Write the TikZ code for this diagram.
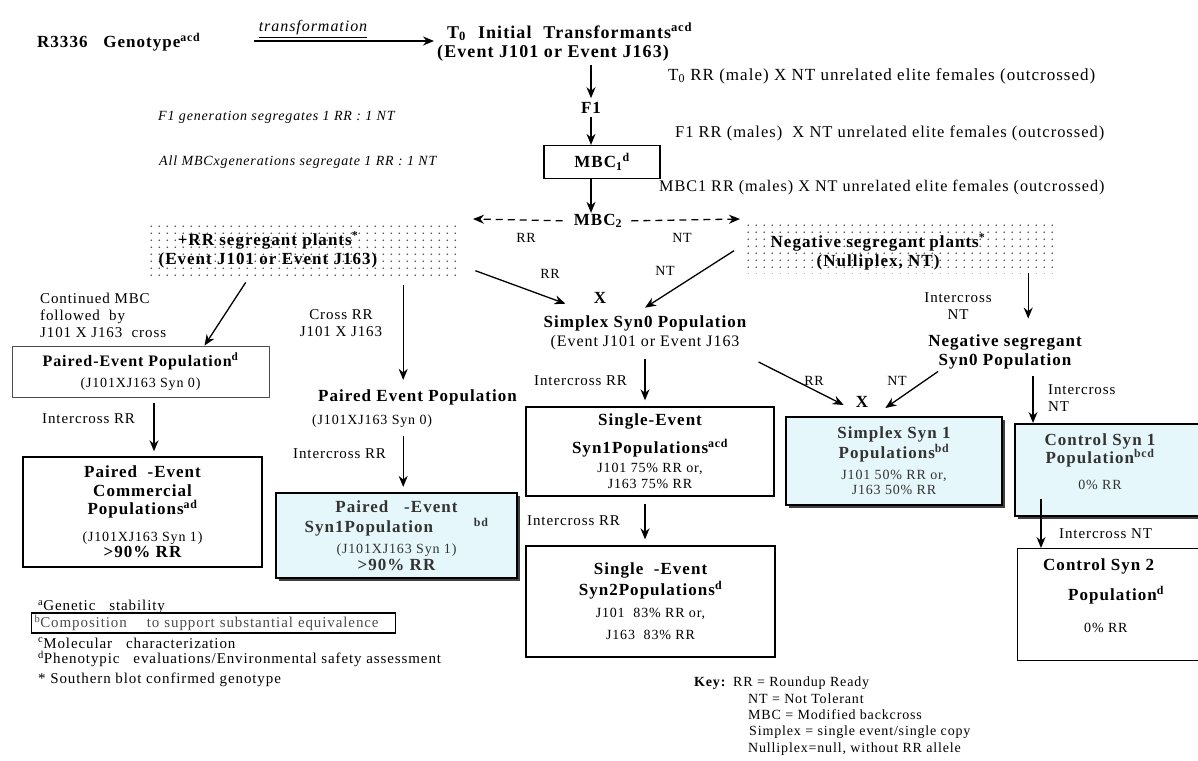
\documentclass[tikz,border=0pt]{standalone}
\usepackage{fontspec}
\setmainfont{Liberation Serif}[LetterSpace=6]
\usetikzlibrary{arrows.meta, shadows}

\definecolor{synfill}{RGB}{229,247,250}
\newcommand{\smtxt}[1]{{\mdseries\fontsize{14}{16}\selectfont #1}}

\tikzset{
  lbl/.style={inner sep=1pt, font=\fontsize{15}{17}\selectfont},
  key/.style={inner sep=1pt, font=\fontsize{14}{16.3}\selectfont},
  side/.style={inner sep=1pt, font=\fontsize{17}{19}\selectfont},
  hd/.style={inner sep=1pt, font=\fontsize{17}{19}\selectfont\bfseries},
  note/.style={inner sep=1pt, font=\fontsize{14}{16}\selectfont\itshape},
  popbox/.style={draw, line width=1.4pt, align=center, inner sep=0pt,
    font=\fontsize{17}{19}\selectfont\bfseries},
  synbox/.style={popbox, line width=2.2pt, fill=synfill, text=black!80,
    drop shadow={shadow xshift=2.5pt, shadow yshift=-2.5pt, fill=black!75, opacity=1}},
  segbox/.style={inner sep=0pt, path picture={
      \foreach \i in {0,...,39}{\foreach \j in {0,...,8}{
        \fill[black!70] ([xshift=\i*8pt+3pt, yshift=-\j*7pt-3pt]path picture bounding box.north west) circle (0.85pt);}}}},
  arr/.style={-{Stealth[length=11pt, width=9pt]}, line width=1.3pt},
  darr/.style={arr, dash pattern=on 7pt off 5pt}
}

\begin{document}
\begin{tikzpicture}[x=1pt, y=-1pt]
\clip (0,0) rectangle (1198,760);
\fill[white] (0,0) rectangle (1198,760);

% top row
\node[hd, anchor=west] (geno) at (36,42) {R3336\ \ \ Genotype\textsuperscript{acd}};
\node[lbl, font=\fontsize{16}{18}\selectfont\itshape] (trlabel) at (313,29) {\underline{transformation}};
\coordinate (trstart) at (254,41);
\node[hd, anchor=west, align=left, font=\fontsize{18}{19}\selectfont\bfseries] (T0) at (436,42) {\hspace{10pt}T\textsubscript{0}\hspace{12pt}Initial\hspace{12pt}Transformants\textsuperscript{acd}\\(Event J101 or Event J163)};
\node[hd] (F1) at (591,108) {F1};
\node[side, anchor=west] (out1) at (667,76) {T\textsubscript{0} RR (male) X NT unrelated elite females (outcrossed)};
\node[note, anchor=west] (segF1) at (157,117) {F1 generation segregates 1 RR : 1 NT};
\node[popbox, line width=1.2pt, minimum width=116pt, minimum height=33pt] (MBC1) at (602,162) {MBC\textsubscript{1}\textsuperscript{d}};
\node[side, anchor=west, font=\fontsize{16.5}{19}\selectfont] (out2) at (674,133) {F1 RR (males)\ \ X NT unrelated elite females (outcrossed)};
\node[note, anchor=west] (segMBC) at (158,162) {All MBCxgenerations segregate 1 RR : 1 NT};
\node[side, anchor=west, font=\fontsize{16.2}{19}\selectfont] (out3) at (658,188) {MBC1 RR (males) X NT unrelated elite females (outcrossed)};
\node[hd] (MBC2) at (598,221) {MBC\textsubscript{2}};
\coordinate (rrtip) at (473,219);
\coordinate (nttip) at (740,219);

% segregant plants
\node[segbox, minimum width=309pt, minimum height=55pt, anchor=north west] (rrseg) at (148,223) {};
\node[hd, align=center] (rrtxt) at (268,250) {+RR segregant plants\textsuperscript{*}\\(Event J101 or Event J163)};
\node[segbox, minimum width=309pt, minimum height=51pt, anchor=north west] (negseg) at (745,222) {};
\node[hd, align=center] (negtxt) at (878,252) {Negative segregant plants\textsuperscript{*}\\(Nulliplex, NT)};

\node[key] (rrA) at (526,238) {RR};
\node[key] (ntA) at (682,238) {NT};
\node[key] (rrB) at (550,274) {RR};
\node[key] (ntB) at (665,271) {NT};
\node[hd] (crossA) at (600,298) {X};
\node[hd, align=center] (syn0) at (645,333) {Simplex Syn0 Population\\{\mdseries\fontsize{16}{19}\selectfont (Event J101 or Event J163}};
\node[lbl, align=center] (icNT1) at (958,306) {Intercross\\NT};
\node[hd, align=center] (negsyn0) at (1005,352) {Negative segregant\\Syn0 Population};

% left branches
\node[lbl, anchor=west, align=left] (contMBC) at (39,315) {Continued MBC\\followed\ \ by\\J101 X J163\ \ cross};
\node[lbl, align=center] (crossRR) at (341,323) {Cross RR\\J101 X J163};
\node[popbox, line width=0.8pt, draw=black!70, minimum width=257pt, minimum height=51pt,
  font=\fontsize{16}{21}\selectfont\bfseries] (pairA) at (140.5,371.5) {Paired-Event Population\textsuperscript{d}\\\smtxt{(J101XJ163 Syn 0)}};
\node[hd, anchor=west, align=left] (pairB) at (311,409) {\hspace{6pt}Paired Event Population\\[4pt]\smtxt{(J101XJ163 Syn 0)}};
\node[lbl, anchor=west] (icRR1) at (41,419) {Intercross RR};
\node[popbox, minimum width=239pt, minimum height=110pt] (comm) at (142.5,512) {Paired\ \ -Event\\[0pt]Commercial\\[-1pt]Populations\textsuperscript{ad}\\[8pt]\smtxt{(J101XJ163 Syn 1)}\\[-3pt]>90\% RR};
\node[lbl, anchor=west] (icRR2) at (292,454) {Intercross RR};
\node[synbox, minimum width=241pt, minimum height=85pt] (pairS1) at (396.5,535.5) {Paired\ \ \ -Event\\[1pt]Syn1Population\hspace{2.4em}\textsuperscript{bd}\\[2pt]\smtxt{(J101XJ163 Syn 1)}\\[-2pt]>90\% RR};

% centre column
\node[lbl, anchor=west] (icRR3) at (533,381) {Intercross RR};
\node[popbox, minimum width=248pt, minimum height=89pt] (sing1) at (650,451.5) {Single-Event\\[9pt]Syn1Populations\textsuperscript{acd}\\[0pt]\smtxt{J101 75\% RR or,}\\[-3pt]\smtxt{J163 75\% RR}};
\node[lbl, anchor=west] (icRR4) at (526,521) {Intercross RR};
\node[popbox, minimum width=249pt, minimum height=111pt] (sing2) at (650.5,601.5) {Single\ \ -Event\\[2pt]Syn2Populations\textsuperscript{d}\\[3pt]\smtxt{J101\ \ 83\% RR or,}\\[3pt]\smtxt{J163\ \ 83\% RR}};

% right column
\node[key] (rrC) at (814,381) {RR};
\node[key] (ntC) at (897,381) {NT};
\node[hd] (crossB) at (862,402) {X};
\node[synbox, minimum width=216pt, minimum height=88pt] (simp1) at (894,461) {Simplex Syn 1\\[1pt]Populations\textsuperscript{bd}\\[2pt]\smtxt{J101 50\% RR or,}\\[-4pt]\smtxt{J163 50\% RR}};
\node[lbl, anchor=west, align=left] (icNT2) at (1047,398) {Intercross\\NT};
\node[synbox, minimum width=230pt, minimum height=92pt, anchor=north west] (ctrl1) at (1014,423) {};
\node[hd, align=center, text=black!80] (ctrl1txt) at (1100,462) {Control Syn 1\\[-1pt]Population\textsuperscript{bcd}\\[7pt]\smtxt{0\% RR}};
\node[lbl, anchor=west] (icNT3) at (1058,534) {Intercross NT};
\node[popbox, minimum width=230pt, minimum height=112pt, anchor=north west] (ctrl2) at (1017,548) {};
\node[hd, anchor=west, align=left] (ctrl2txt) at (1042,596) {Control Syn 2\\[11pt]\hspace{25pt}Population\textsuperscript{d}\\[13pt]\hspace{41pt}\smtxt{0\% RR}};

% footnotes and key
\node[lbl, anchor=west] (fa) at (37,607) {\textsuperscript{a}Genetic\ \ \ stability};
\node[lbl, draw, line width=1.2pt, anchor=west, text=black!70, text width=358pt, inner xsep=3pt, inner ysep=0pt,
  minimum height=20pt] (fb) at (31,623) {\textsuperscript{b}Composition\ \ \ \ to support substantial equivalence};
\node[lbl, anchor=west] (fc) at (37,643) {\textsuperscript{c}Molecular\ \ \ characterization};
\node[lbl, anchor=west] (fd) at (37,659) {\textsuperscript{d}Phenotypic\ \ \ evaluations/Environmental safety assessment};
\node[lbl, anchor=west] (fe) at (37,680) {* Southern blot confirmed genotype};
\node[key, font=\fontsize{14}{16}\selectfont\bfseries, anchor=west] (keyhd) at (693,683) {Key:};
\node[key, anchor=north west, align=left] (keytxt) at (732,676) {RR = Roundup Ready\\\hspace{15pt}NT = Not Tolerant\\\hspace{15pt}MBC = Modified backcross\\\hspace{16pt}Simplex = single event/single copy\\\hspace{15pt}Nulliplex=null, without RR allele};

% connectors
\draw[arr, shorten >=2pt] (trstart) -- (trstart -| T0.west);
\draw[arr, shorten <=3pt, shorten >=3pt] (T0.south -| F1.north) -- (F1.north);
\draw[arr, shorten <=2pt] (F1.south) -- (F1.south |- MBC1.north);
\draw[arr] (F1 |- MBC1.south) -- (F1 |- MBC2.north);
\draw[darr, shorten <=10pt] (MBC2.west) -- (rrtip);
\draw[darr, shorten <=8pt] (MBC2.east) -- (nttip);

\draw[arr] ([xshift=-57pt, yshift=-4pt]rrseg.south) -- ([xshift=64pt]pairA.north);
\coordinate (rrcol) at ([xshift=100.5pt, yshift=-7pt]rrseg.south);
\draw[arr, shorten >=9pt] (rrcol) -- (rrcol |- pairB.north);
\draw[arr] ([xshift=18pt, yshift=-20pt]rrseg.east) -- ([xshift=23pt, yshift=11pt]syn0.north west);
\draw[arr] ([xshift=-11pt, yshift=-3pt]negseg.west) -- ([yshift=7pt]syn0.north);
\coordinate (negcol) at ([xshift=128.5pt]negseg.south);
\draw[arr, shorten >=15pt] (negcol) -- (negcol |- negsyn0.north);

\coordinate (pcol) at ([xshift=13.5pt, yshift=-6pt]pairA.south);
\draw[arr, shorten >=5pt] (pcol) -- (pcol |- comm.north);
\draw[arr, shorten <=7pt, shorten >=5pt] (rrcol |- pairB.south) -- (rrcol |- pairS1.north);

\draw[arr, shorten <=8pt, shorten >=6pt] (syn0.south) -- (syn0.south |- sing1.north);
\draw[arr, shorten <=7pt, shorten >=6pt] (sing1.south -| syn0.south) -- (syn0.south |- sing2.north);
\draw[arr] ([xshift=11pt, yshift=-29pt]syn0.east) -- ([xshift=-11pt, yshift=-3pt]crossB.west);
\draw[arr] ([xshift=11pt, yshift=-1pt]negsyn0.south west) -- ([xshift=16pt, yshift=-6pt]crossB.east);

\coordinate (ncol) at ([xshift=28pt, yshift=-6pt]negsyn0.south);
\draw[arr] (ncol) -- (ncol |- ctrl1.north);
\coordinate (ccol) at ([xshift=27pt, yshift=18pt]ctrl1.south west);
\draw[arr] (ccol) -- (ccol |- ctrl2.north);
\end{tikzpicture}
\end{document}
